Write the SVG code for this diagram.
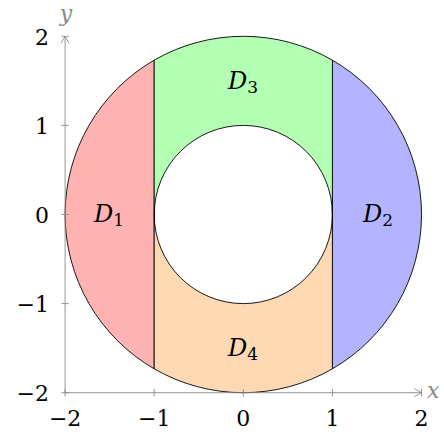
<svg xmlns="http://www.w3.org/2000/svg" width="444" height="432" viewBox="0 0 444 432">
<style>
.reg{stroke:#000;stroke-width:0.9;stroke-linejoin:round}
.ax{stroke:#8a8a8a;stroke-width:0.9;fill:none}
.tl{font-family:"DejaVu Serif",serif;font-size:22px;fill:#000}
.al{font-family:"DejaVu Serif",serif;font-size:22px;font-style:italic;fill:#8a8a8a}
.dl{font-family:"DejaVu Serif",serif;font-size:24px;font-style:italic;fill:#000;text-anchor:middle}
.sub{font-style:normal;font-size:17px}
</style>
<rect width="444" height="432" fill="#fff"/>
<g id="D1"><path class="reg" fill="#ffb3b3" d="M154.2,60.17 A178.2,178.2 0 0 0 154.2,368.83 Z"/><text class="dl" x="109" y="222">D<tspan class="sub" dy="4">1</tspan></text></g>
<g id="D2"><path class="reg" fill="#b3b3ff" d="M332.4,60.17 A178.2,178.2 0 0 1 332.4,368.83 Z"/><text class="dl" x="378" y="222">D<tspan class="sub" dy="4">2</tspan></text></g>
<g id="D3"><path class="reg" fill="#b3ffb3" d="M154.2,214.5 L154.2,60.17 A178.2,178.2 0 0 1 332.4,60.17 L332.4,214.5 A89.1,89.1 0 0 0 154.2,214.5 Z"/><text class="dl" x="243" y="89">D<tspan class="sub" dy="4">3</tspan></text></g>
<g id="D4"><path class="reg" fill="#ffd9b3" d="M154.2,214.5 L154.2,368.83 A178.2,178.2 0 0 0 332.4,368.83 L332.4,214.5 A89.1,89.1 0 0 1 154.2,214.5 Z"/><text class="dl" x="243" y="356">D<tspan class="sub" dy="4">4</tspan></text></g>
<g id="axes">
<path class="ax" d="M65.1,392.7 H421.5 M65.1,392.7 V36.3"/>
<path class="ax" d="M414.5,388.7 L421.5,392.7 L414.5,396.7 M61.1,43.3 L65.1,36.3 L69.1,43.3"/>
<path class="ax" d="M65.1,389 V396.4 M154.2,389 V396.4 M243.3,389 V396.4 M332.4,389 V396.4 M421.5,389 V396.4 M61.4,392.7 H68.8 M61.4,303.6 H68.8 M61.4,214.5 H68.8 M61.4,125.4 H68.8 M61.4,36.3 H68.8"/>
<text class="al" x="427" y="398">x</text>
<text class="al" x="66" y="21" text-anchor="middle">y</text>
</g>
<g id="ticklabels" class="tl">
<text x="65.1" y="426" text-anchor="middle">−2</text>
<text x="154.2" y="426" text-anchor="middle">−1</text>
<text x="243.3" y="426" text-anchor="middle">0</text>
<text x="332.4" y="426" text-anchor="middle">1</text>
<text x="421.5" y="426" text-anchor="middle">2</text>
<text x="49" y="401" text-anchor="end">−2</text>
<text x="49" y="312" text-anchor="end">−1</text>
<text x="49" y="223" text-anchor="end">0</text>
<text x="49" y="134" text-anchor="end">1</text>
<text x="49" y="45" text-anchor="end">2</text>
</g>
</svg>
